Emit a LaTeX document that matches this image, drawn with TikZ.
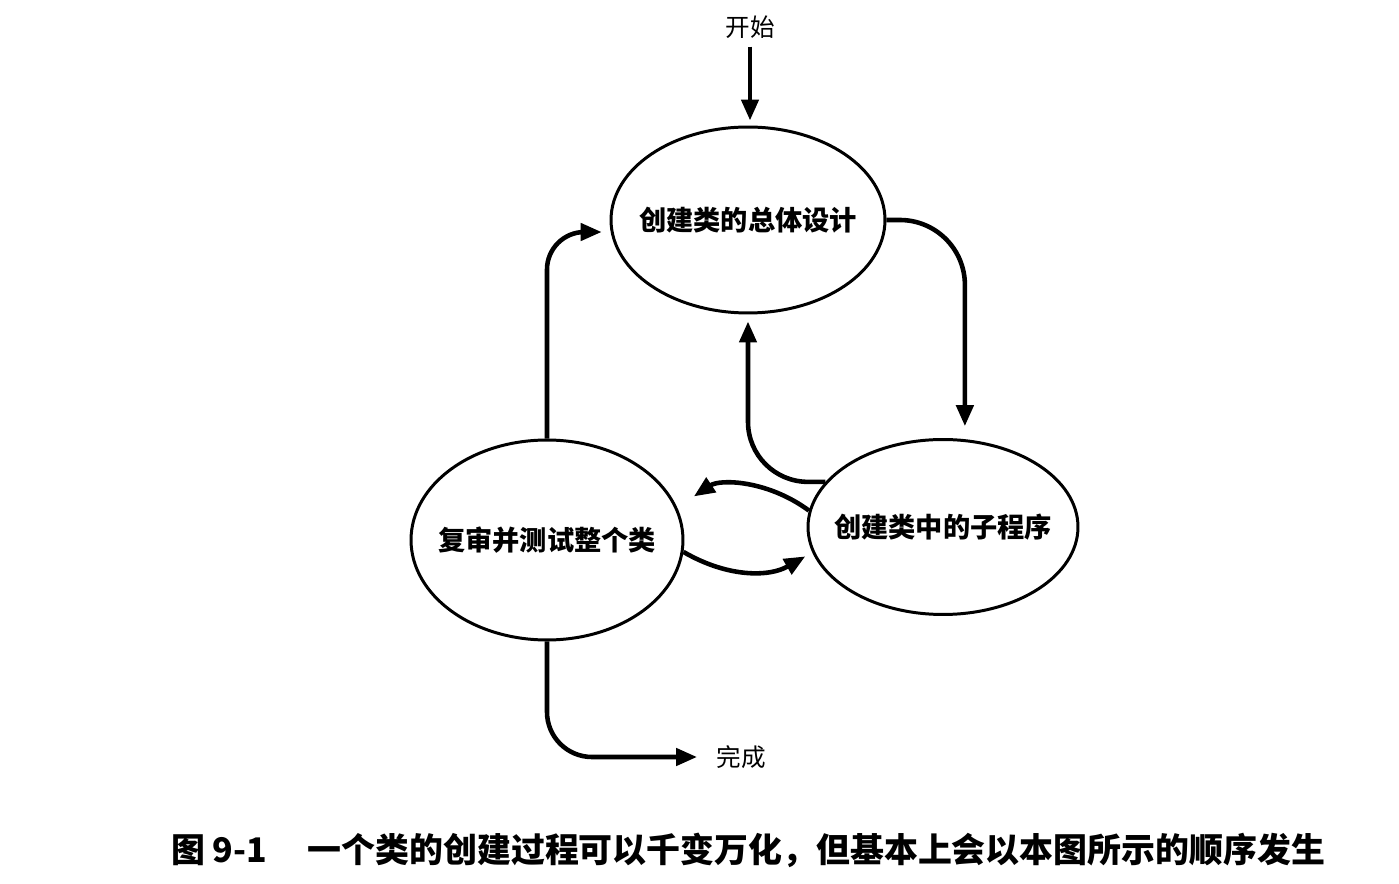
\documentclass[tikz,border=0pt]{standalone}
\usepackage{fontspec}
\setmainfont{Noto Sans CJK SC}
\usetikzlibrary{positioning, arrows.meta, shapes.geometric, calc}

\begin{document}
\begin{tikzpicture}[
  x=0.02cm, y=-0.02cm,
  stage/.style={draw, ellipse, line width=1.7pt, inner sep=-0.4cm, font=\fontsize{15.5}{18}\selectfont\bfseries},
  label/.style={inner sep=0pt, font=\fontsize{14}{16}\selectfont},
  flow/.style={line width=2.6pt, -{Triangle[length=0.42cm, width=0.34cm]}},
]
  \useasboundingbox (0,0) rectangle (1399,884);

  \node[label] (start) at (750,27) {开始};
  \node[stage, minimum width=5.48cm, minimum height=3.72cm] (design) at (748,220) {创建类的总体设计};
  \node[stage, minimum width=5.40cm, minimum height=3.50cm] (sub) at (943,527) {创建类中的子程序};
  \node[stage, minimum width=5.44cm, minimum height=4.00cm] (review) at (547,540) {复审并测试整个类};
  \node[label] (done) at (741,757) {完成};

  \draw[flow, shorten <=0.16cm, shorten >=0.1cm] (start.south) -- (start.south |- design.north);
  \draw[flow, rounded corners=1.3cm, shorten >=0.26cm] (design.east) -| (sub.76);
  \draw[flow, rounded corners=1.2cm, shorten >=0.14cm] (sub.159) -| (design.south);
  \draw[flow, shorten >=0.4cm] (sub.173) to[bend right=35] (review.14);
  \draw[flow, shorten >=0.16cm] (review.-5) to[bend right=30] (sub.191);
  \draw[flow, rounded corners=0.75cm, shorten >=0.18cm] (review.north) |- (design.185);
  \draw[flow, rounded corners=0.9cm, shorten >=0.38cm] (review.south) |- (done.west);

  \node[font=\fontsize{19.3}{22}\selectfont\bfseries] (caption) at (748,850)
    {图 9-1\hspace{1.2em}一个类的创建过程可以千变万化，但基本上会以本图所示的顺序发生};
\end{tikzpicture}
\end{document}
